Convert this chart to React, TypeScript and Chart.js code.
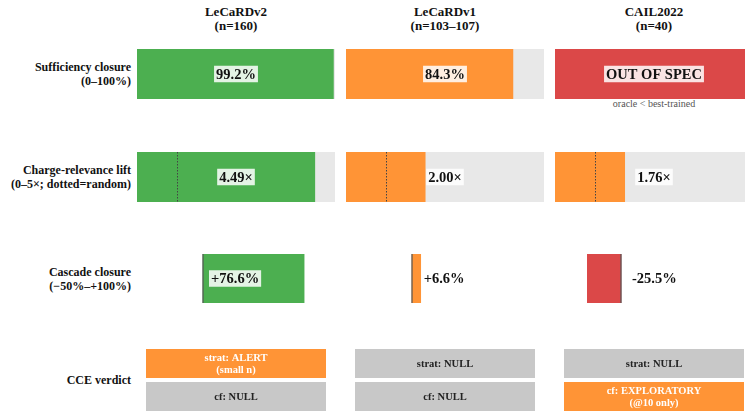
import React, { useEffect, useRef } from 'react';
import { Chart, registerables } from 'chart.js';

Chart.register(...registerables);

// ---------- data ----------
const datasetNames = ['LeCaRDv2', 'LeCaRDv1', 'CAIL2022'];
const sampleSizes = ['(n=160)', '(n=103–107)', '(n=40)'];
const rowLabels = [
  ['Sufficiency closure', '(0–100%)'],
  ['Charge-relevance lift', '(0–5×; dotted=random)'],
  ['Cascade closure', '(−50%–+100%)'],
  ['CCE verdict'],
];
// null = out of spec (drawn as a full bar)
const sufficiency: (number | null)[] = [99.2, 84.3, null];
const sufficiencyLabels = ['99.2%', '84.3%', 'OUT OF SPEC'];
const sufficiencyNotes = ['', '', 'oracle < best-trained'];
const liftValues = [4.49, 2.0, 1.76];
const liftLabels = ['4.49×', '2.00×', '1.76×'];
const randomLift = [1.0, 1.0, 1.0];
const cascadeValues = [76.6, 6.6, -25.5];
const cascadeLabels = ['+76.6%', '+6.6%', '-25.5%'];
const verdictRows = ['strat', 'cf'];
const stratVerdict = ['strat: ALERT\n(small n)', 'strat: NULL', 'strat: NULL'];
const stratStatus = ['ALERT', 'NULL', 'NULL'];
const cfVerdict = ['cf: NULL', 'cf: NULL', 'cf: EXPLORATORY\n(@10 only)'];
const cfStatus = ['NULL', 'NULL', 'EXPLORATORY'];

// ranges
const SUFF_RANGE = [0, 100];
const LIFT_RANGE = [0, 5];
const CASC_RANGE = [-50, 100];

// ---------- style ----------
const GREEN = '#4CAF50';
const ORANGE = '#FF9436';
const RED = '#DB4848';
const TRACK = '#E8E8E8';
const NULL_GRAY = '#C8C8C8';
const suffColors = [GREEN, ORANGE, RED];
const liftColors = [GREEN, ORANGE, ORANGE];
const cascColors = [GREEN, ORANGE, RED];
const statusColor = (s: string) => (s === 'NULL' ? NULL_GRAY : ORANGE);
const statusText = (s: string) => (s === 'NULL' ? '#222' : '#fff');

const FONT = "'Liberation Serif', 'Times New Roman', serif";
const COL_LEFT = 137;
const COL_PITCH = 209;
const COL_W = 198;
const ROWS = [
  { top: 49, h: 50 },
  { top: 152, h: 50 },
  { top: 254, h: 49 },
  { top: 347, h: 66 },
];
const VERDICT_INSET = 9;

function boxedText(
  ctx: CanvasRenderingContext2D,
  text: string,
  x: number,
  y: number,
  align: 'left' | 'center',
  size: number
) {
  ctx.save();
  ctx.font = `bold ${size}px ${FONT}`;
  const w = ctx.measureText(text).width;
  const left = align === 'center' ? x - w / 2 : x;
  ctx.fillStyle = 'rgba(255,255,255,0.85)';
  ctx.fillRect(left - 2, y - size / 2 - 1, w + 4, size + 2);
  ctx.fillStyle = '#111';
  ctx.textAlign = 'left';
  ctx.textBaseline = 'middle';
  ctx.fillText(text, left, y + 1);
  ctx.restore();
}

function barConfig(
  value: number,
  range: number[],
  color: string,
  track: boolean,
  draw: (chart: any) => void
): any {
  return {
    type: 'bar',
    data: {
      labels: [''],
      datasets: [
        {
          data: [value],
          backgroundColor: color,
          borderWidth: 0,
          barPercentage: 1,
          categoryPercentage: 1,
        },
      ],
    },
    options: {
      indexAxis: 'y',
      animation: false,
      responsive: false,
      maintainAspectRatio: false,
      layout: { padding: 0 },
      events: [],
      scales: {
        x: { display: false, min: range[0], max: range[1] },
        y: { display: false },
      },
      plugins: { legend: { display: false }, tooltip: { enabled: false } },
    },
    plugins: [
      {
        id: 'track',
        beforeDatasetsDraw(chart: any) {
          if (!track) return;
          const a = chart.chartArea;
          chart.ctx.save();
          chart.ctx.fillStyle = TRACK;
          chart.ctx.fillRect(a.left, a.top, a.right - a.left, a.bottom - a.top);
          chart.ctx.restore();
        },
        afterDatasetsDraw(chart: any) {
          draw(chart);
        },
      },
    ],
  };
}

function verdictConfig(i: number): any {
  const texts = [stratVerdict[i], cfVerdict[i]];
  const status = [stratStatus[i], cfStatus[i]];
  return {
    type: 'bar',
    data: {
      labels: verdictRows,
      datasets: [
        {
          data: [1, 1],
          backgroundColor: status.map(statusColor),
          borderWidth: 0,
          barPercentage: 0.88,
          categoryPercentage: 1,
        },
      ],
    },
    options: {
      indexAxis: 'y',
      animation: false,
      responsive: false,
      maintainAspectRatio: false,
      layout: { padding: 0 },
      events: [],
      scales: {
        x: { display: false, min: 0, max: 1 },
        y: { display: false },
      },
      plugins: { legend: { display: false }, tooltip: { enabled: false } },
    },
    plugins: [
      {
        id: 'vtext',
        afterDatasetsDraw(chart: any) {
          const ctx = chart.ctx;
          const meta = chart.getDatasetMeta(0);
          meta.data.forEach((el: any, k: number) => {
            const lines = texts[k].split('\n');
            const cx = (el.x + el.base) / 2;
            ctx.save();
            ctx.font = `bold 10.5px ${FONT}`;
            ctx.fillStyle = statusText(status[k]);
            ctx.textAlign = 'center';
            ctx.textBaseline = 'middle';
            const lh = 12;
            lines.forEach((ln, j) => {
              ctx.fillText(ln, cx, el.y + (j - (lines.length - 1) / 2) * lh + 0.5);
            });
            ctx.restore();
          });
        },
      },
    ],
  };
}

type Panel = { left: number; top: number; width: number; height: number; make: () => any };

function buildPanels(): Panel[] {
  const panels: Panel[] = [];
  for (let i = 0; i < datasetNames.length; i++) {
    const left = COL_LEFT + i * COL_PITCH;
    // sufficiency
    const sv = sufficiency[i];
    panels.push({
      left,
      top: ROWS[0].top,
      width: COL_W,
      height: ROWS[0].h,
      make: () =>
        barConfig(sv == null ? SUFF_RANGE[1] : sv, SUFF_RANGE, suffColors[i], true, (chart) => {
          const a = chart.chartArea;
          const sx = chart.scales.x;
          const cx = sx.getPixelForValue((SUFF_RANGE[0] + SUFF_RANGE[1]) / 2);
          boxedText(chart.ctx, sufficiencyLabels[i], cx, (a.top + a.bottom) / 2, 'center', 14.5);
        }),
    });
    // lift
    panels.push({
      left,
      top: ROWS[1].top,
      width: COL_W,
      height: ROWS[1].h,
      make: () =>
        barConfig(liftValues[i], LIFT_RANGE, liftColors[i], true, (chart) => {
          const a = chart.chartArea;
          const sx = chart.scales.x;
          const ctx = chart.ctx;
          const rx = Math.round(sx.getPixelForValue(randomLift[i])) + 0.5;
          ctx.save();
          ctx.strokeStyle = '#444';
          ctx.lineWidth = 1;
          ctx.setLineDash([1.5, 1.5]);
          ctx.beginPath();
          ctx.moveTo(rx, a.top);
          ctx.lineTo(rx, a.bottom);
          ctx.stroke();
          ctx.restore();
          const cx = sx.getPixelForValue((LIFT_RANGE[0] + LIFT_RANGE[1]) / 2);
          boxedText(ctx, liftLabels[i], cx, (a.top + a.bottom) / 2, 'center', 14.5);
        }),
    });
    // cascade
    panels.push({
      left,
      top: ROWS[2].top,
      width: COL_W,
      height: ROWS[2].h,
      make: () =>
        barConfig(cascadeValues[i], CASC_RANGE, cascColors[i], false, (chart) => {
          const a = chart.chartArea;
          const sx = chart.scales.x;
          const ctx = chart.ctx;
          const v = cascadeValues[i];
          const x0 = sx.getPixelForValue(0);
          const xe = sx.getPixelForValue(v);
          ctx.save();
          ctx.strokeStyle = '#555';
          ctx.lineWidth = 1.2;
          ctx.beginPath();
          ctx.moveTo(x0, a.top);
          ctx.lineTo(x0, a.bottom);
          ctx.stroke();
          ctx.restore();
          let tx: number;
          if (v > 30) tx = x0 + 8;
          else if (v >= 0) tx = xe + 3;
          else tx = x0 + 11;
          boxedText(ctx, cascadeLabels[i], tx, (a.top + a.bottom) / 2, 'left', 14.5);
        }),
    });
    // verdict
    panels.push({
      left: left + VERDICT_INSET,
      top: ROWS[3].top,
      width: COL_W - 2 * VERDICT_INSET,
      height: ROWS[3].h,
      make: () => verdictConfig(i),
    });
  }
  return panels;
}

const PANELS = buildPanels();

const rowCenters = [74, 177, 278.5, 380];

export default function App() {
  const refs = useRef<(HTMLCanvasElement | null)[]>([]);

  useEffect(() => {
    document.body.style.margin = '0';
    document.body.style.overflow = 'hidden';
    const charts: Chart[] = [];
    PANELS.forEach((p, idx) => {
      const c = refs.current[idx];
      if (c) charts.push(new Chart(c, p.make()));
    });
    return () => charts.forEach((c) => c.destroy());
  }, []);

  return (
    <div
      style={{
        position: 'absolute',
        left: 0,
        top: 0,
        width: 745,
        height: 412,
        overflow: 'hidden',
        background: '#fff',
        fontFamily: FONT,
        color: '#111',
      }}
    >
      {datasetNames.map((name, i) => (
        <div
          key={'t' + i}
          style={{
            position: 'absolute',
            left: COL_LEFT + i * COL_PITCH,
            width: COL_W,
            top: 5,
            textAlign: 'center',
            fontWeight: 'bold',
            fontSize: 13,
            lineHeight: '14px',
            whiteSpace: 'nowrap',
          }}
        >
          <div>{name}</div>
          <div>{sampleSizes[i]}</div>
        </div>
      ))}
      {rowLabels.map((lines, r) => (
        <div
          key={'r' + r}
          style={{
            position: 'absolute',
            right: 745 - 131,
            top: rowCenters[r] - (lines.length * 14) / 2,
            textAlign: 'right',
            fontWeight: 'bold',
            fontSize: 12,
            lineHeight: '14px',
            whiteSpace: 'nowrap',
          }}
        >
          {lines.map((ln, j) => (
            <div key={j}>{ln}</div>
          ))}
        </div>
      ))}
      {sufficiencyNotes.map((note, i) =>
        note ? (
          <div
            key={'n' + i}
            style={{
              position: 'absolute',
              left: COL_LEFT + i * COL_PITCH,
              width: COL_W,
              top: ROWS[0].top + ROWS[0].h - 1,
              textAlign: 'center',
              fontSize: 10,
              lineHeight: '12px',
              color: '#555',
              whiteSpace: 'nowrap',
            }}
          >
            {note}
          </div>
        ) : null
      )}
      {PANELS.map((p, idx) => (
        <canvas
          key={'c' + idx}
          ref={(el) => {
            refs.current[idx] = el;
          }}
          width={p.width}
          height={p.height}
          style={{
            position: 'absolute',
            left: p.left,
            top: p.top,
            width: p.width,
            height: p.height,
            display: 'block',
          }}
        />
      ))}
    </div>
  );
}
